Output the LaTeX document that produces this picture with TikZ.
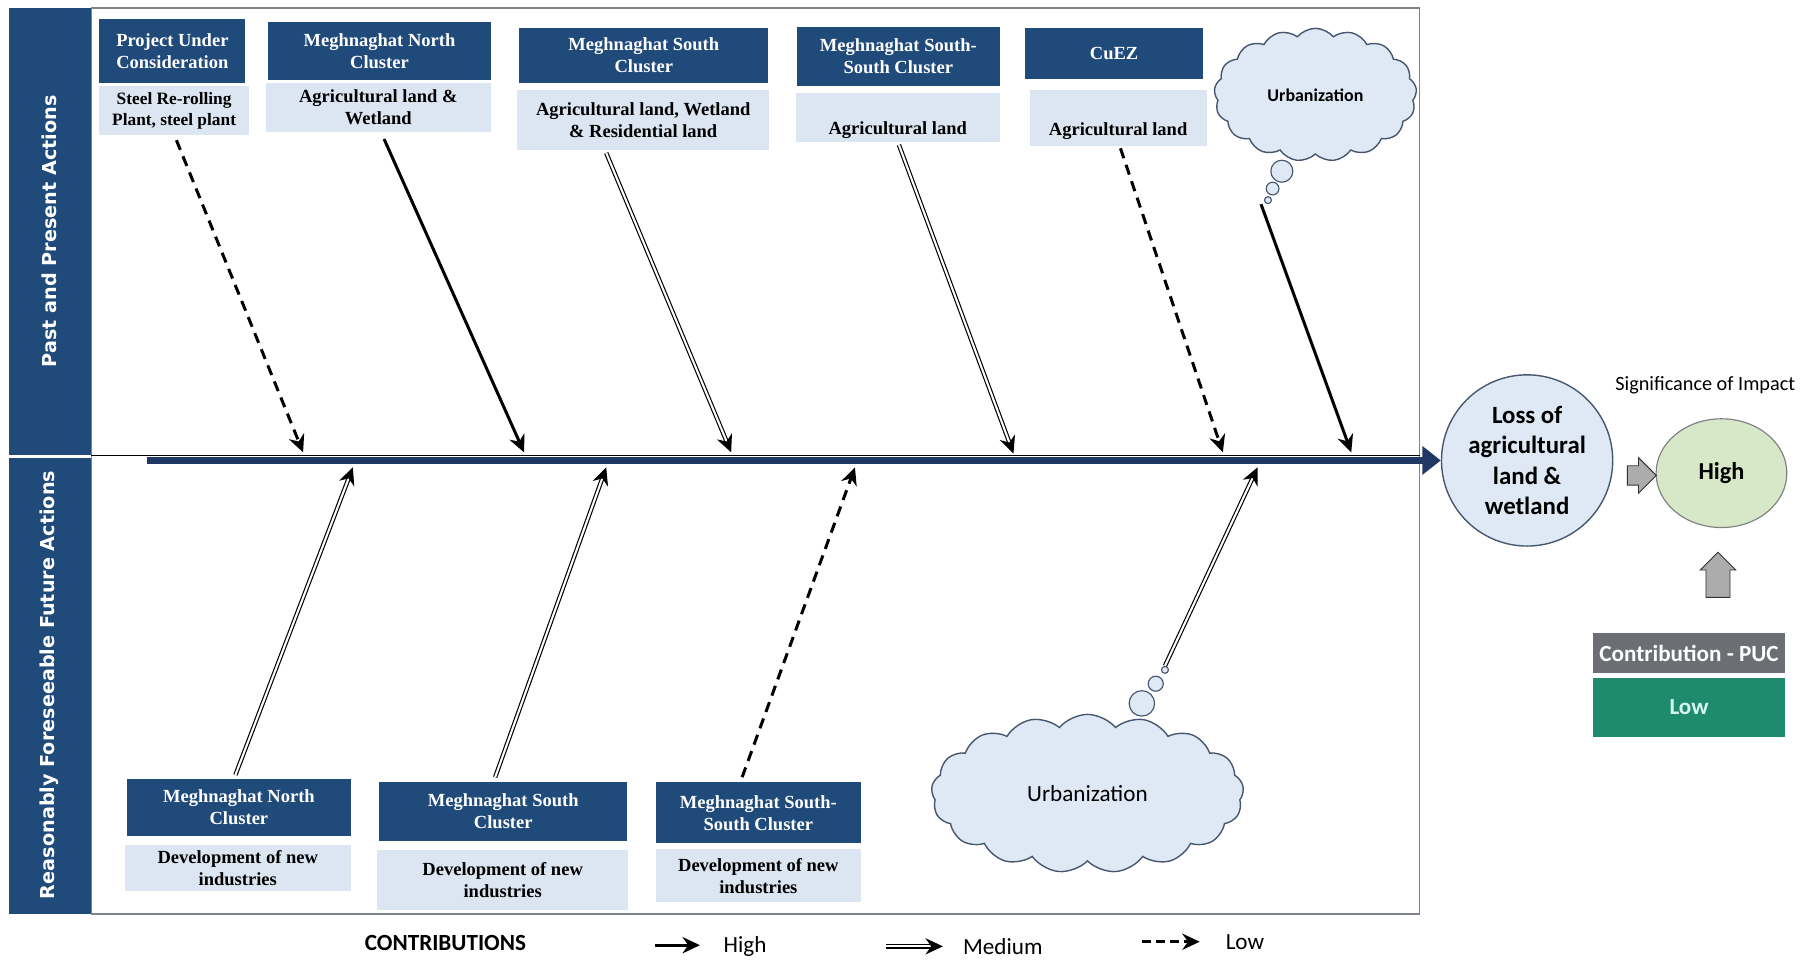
\documentclass[tikz,border=0pt]{standalone}
\usepackage{fontspec}
\setmainfont{Liberation Serif}
\setsansfont{Carlito}
\newfontfamily\bandfont{DejaVu Sans}
\usetikzlibrary{arrows.meta,shapes.symbols,shapes.geometric,shapes.arrows}

\definecolor{hdblue}{RGB}{31,74,122}
\definecolor{bdblue}{RGB}{220,230,242}
\definecolor{spineblue}{RGB}{32,56,100}
\definecolor{framegray}{RGB}{125,132,140}
\definecolor{cloudfill}{RGB}{222,233,245}
\definecolor{cloudline}{RGB}{70,86,108}
\definecolor{highgreen}{RGB}{215,232,200}
\definecolor{pucgray}{RGB}{107,110,114}
\definecolor{lowteal}{RGB}{30,138,110}
\definecolor{lowtext}{RGB}{215,245,240}

\begin{document}
\begin{tikzpicture}[x=1pt,y=-1pt,
  hdbox/.style={fill=hdblue,text=white,font=\fontsize{16}{19}\selectfont\bfseries,align=center,inner sep=0pt},
  bdbox/.style={fill=bdblue,text=black,font=\fontsize{16}{19}\selectfont\bfseries,align=center,inner sep=0pt},
  high/.style={line width=2.6pt,-{Stealth[length=15pt,width=14pt]}},
  medium/.style={line width=1pt,double,double distance=1.8pt,-{Stealth[length=15pt,width=14pt]}},
  low/.style={line width=2.6pt,dash pattern=on 9pt off 6pt,-{Stealth[length=15pt,width=14pt]}},
  bubble/.style={circle,draw=cloudline,fill=cloudfill,line width=1pt,inner sep=0pt},
  urb/.style={cloud,cloud puffs=17,cloud puff arc=100,cloud ignores aspect,draw=cloudline,fill=cloudfill,line width=1.2pt,inner sep=0pt},
  blockarr/.style={single arrow,draw=black!80,fill=gray!65,line width=0.8pt,inner sep=0pt},
  bandtext/.style={rotate=90,text=white,font=\bandfont\bfseries\fontsize{16.6}{19}\selectfont},
  legtext/.style={font=\sffamily\fontsize{20}{24}\selectfont}]
  \useasboundingbox (0,0) rectangle (1568,830);

  \fill[hdblue] (8,7) rectangle (79,393);
  \fill[hdblue] (8,396) rectangle (79,790);
  \node[bandtext] (past) at (43,200) {Past and Present Actions};
  \node[bandtext] (future) at (43,592) {Reasonably Foreseeable Future Actions};
  \draw[framegray,line width=1.5pt] (79,7) rectangle (1227,790);
  \draw[black,line width=0.8pt] (79,394) -- (1227,394);

  % past and present
  \node[hdbox,minimum width=126pt,minimum height=56pt] (hd1) at (149,44) {Project Under\\Consideration};
  \node[bdbox,minimum width=129pt,minimum height=43pt,font=\fontsize{15}{18}\selectfont\bfseries] (bd1) at (150.5,95.5) {Steel Re-rolling\\Plant, steel plant};
  \node[hdbox,minimum width=192pt,minimum height=50pt] (hd2) at (328,44) {Meghnaghat North\\Cluster};
  \node[bdbox,minimum width=194pt,minimum height=42pt] (bd2) at (327,93) {Agricultural land \&\\Wetland};
  \node[hdbox,minimum width=215pt,minimum height=48pt] (hd3) at (556.5,48) {Meghnaghat South\\Cluster};
  \node[bdbox,minimum width=218pt,minimum height=52pt] (bd3) at (556,104) {Agricultural land, Wetland\\\& Residential land};
  \node[hdbox,minimum width=175pt,minimum height=51pt] (hd4) at (776.5,48.5) {Meghnaghat South-\\South Cluster};
  \node[bdbox,minimum width=176pt,minimum height=43pt] (bd4) at (776,101.5) {\raisebox{-15pt}[0pt][0pt]{Agricultural land}};
  \node[hdbox,minimum width=154pt,minimum height=44pt] (hd5) at (963,46) {CuEZ};
  \node[bdbox,minimum width=153pt,minimum height=48pt] (bd5) at (966.5,102) {\raisebox{-15pt}[0pt][0pt]{Agricultural land}};
  \node[urb,minimum width=175pt,minimum height=115pt,font=\sffamily\bfseries\fontsize{15.5}{18}\selectfont] (urbtop) at (1137,82) {Urbanization};
  \node[bubble,minimum size=19pt] (tba) at (1108,148) {};
  \node[bubble,minimum size=11pt] (tbb) at (1100,163) {};
  \node[bubble,minimum size=6pt] (tbc) at (1096,173) {};

  % future
  \node[hdbox,minimum width=193pt,minimum height=50pt] (fhd1) at (206.5,698) {Meghnaghat North\\Cluster};
  \node[bdbox,minimum width=195pt,minimum height=40pt] (fbd1) at (205.5,750) {Development of new\\industries};
  \node[hdbox,minimum width=214pt,minimum height=51pt] (fhd2) at (435,701.5) {Meghnaghat South\\Cluster};
  \node[bdbox,minimum width=217pt,minimum height=52pt] (fbd2) at (434.5,761) {Development of new\\industries};
  \node[hdbox,minimum width=177pt,minimum height=53pt] (fhd3) at (655.5,702.5) {Meghnaghat South-\\South Cluster};
  \node[bdbox,minimum width=177pt,minimum height=46pt] (fbd3) at (655.5,757) {Development of new\\industries};
  \node[urb,minimum width=270pt,minimum height=137pt,font=\sffamily\fontsize{20}{24}\selectfont] (urbbot) at (940,686) {Urbanization};
  \node[bubble,minimum size=22pt] (bba) at (987,608) {};
  \node[bubble,minimum size=13pt] (bbb) at (999,591) {};
  \node[bubble,minimum size=6pt] (bbc) at (1007,579) {};

  % impact
  \node[circle,draw=cloudline,fill=cloudfill,line width=1.2pt,minimum size=148pt,inner sep=0pt,align=center,font=\sffamily\bfseries\fontsize{21.5}{26}\selectfont] (loss) at (1320,398) {Loss of\\agricultural\\land \&\\wetland};
  \node[ellipse,draw=gray,fill=highgreen,line width=1pt,minimum width=113pt,minimum height=94pt,font=\sffamily\bfseries\fontsize{21}{25}\selectfont] (signif) at (1488,409) {High};
  \node[font=\sffamily\fontsize{17.5}{21}\selectfont] (sigtitle) at (1474,333) {Significance of Impact};
  \node[blockarr,inner ysep=8pt,minimum height=25pt,single arrow head extend=7pt] (toarr) at (1415,411) {};
  \node[blockarr,rotate=90,inner ysep=10pt,minimum height=39pt,single arrow head extend=5pt] (uparr) at (1485,502) {};
  \node[fill=pucgray,text=white,minimum width=166pt,minimum height=35pt,font=\sffamily\bfseries\fontsize{20}{24}\selectfont] (puc) at (1460,564.5) {Contribution - PUC};
  \node[fill=lowteal,text=lowtext,minimum width=166pt,minimum height=51pt,font=\sffamily\bfseries\fontsize{20}{24}\selectfont] (pucval) at (1460,611.5) {Low};

  % spine and contributions
  \coordinate (tail) at (127,398);
  \draw[spineblue,line width=6.5pt,-{Triangle[length=16pt,width=24pt]}] (tail) -- (loss.west);
  \coordinate (s1) at (262,391);
  \coordinate (s2) at (453,391);
  \coordinate (s3) at (632,391);
  \coordinate (s4) at (876,392);
  \coordinate (s5) at (1057,391);
  \coordinate (s6) at (1168,391);
  \draw[low] ([xshift=2pt,yshift=-4pt]bd1.south) -- (s1);
  \draw[high] ([xshift=5pt,yshift=-6pt]bd2.south) -- (s2);
  \draw[medium] ([xshift=-32pt,yshift=-2pt]bd3.south) -- (s3);
  \draw[medium] ([xshift=1pt,yshift=-2pt]bd4.south) -- (s4);
  \draw[low] ([xshift=2pt,yshift=-2pt]bd5.south) -- (s5);
  \draw[high] ([xshift=-6pt]tbc.south) -- (s6);
  \coordinate (u1) at (305,404);
  \coordinate (u2) at (524,404);
  \coordinate (u3) at (739,404);
  \coordinate (u4) at (1087,404);
  \draw[medium] ([xshift=-3pt,yshift=3pt]fhd1.north) -- (u1);
  \draw[medium] ([xshift=-7pt,yshift=4pt]fhd2.north) -- (u2);
  \draw[low] ([xshift=-14pt,yshift=4pt]fhd3.north) -- (u3);
  \draw[medium] (bbc.north) -- (u4);

  % legend
  \node[legtext,font=\sffamily\bfseries\fontsize{20}{24}\selectfont] (legend) at (385,815) {CONTRIBUTIONS};
  \coordinate (lh1) at (566,817);
  \coordinate (lh2) at (605,817);
  \coordinate (lm1) at (766,818);
  \coordinate (lm2) at (815,818);
  \coordinate (ll1) at (987,814);
  \coordinate (ll2) at (1037,814);
  \draw[high] (lh1) -- (lh2);
  \draw[medium] (lm1) -- (lm2);
  \draw[low,dash pattern=on 8pt off 4pt] (ll1) -- (ll2);
  \node[legtext,anchor=west] (lhigh) at (622,818) {High};
  \node[legtext,anchor=west] (lmed) at (829,818) {Medium};
  \node[legtext,anchor=west] (llow) at (1056,814) {Low};
\end{tikzpicture}
\end{document}
